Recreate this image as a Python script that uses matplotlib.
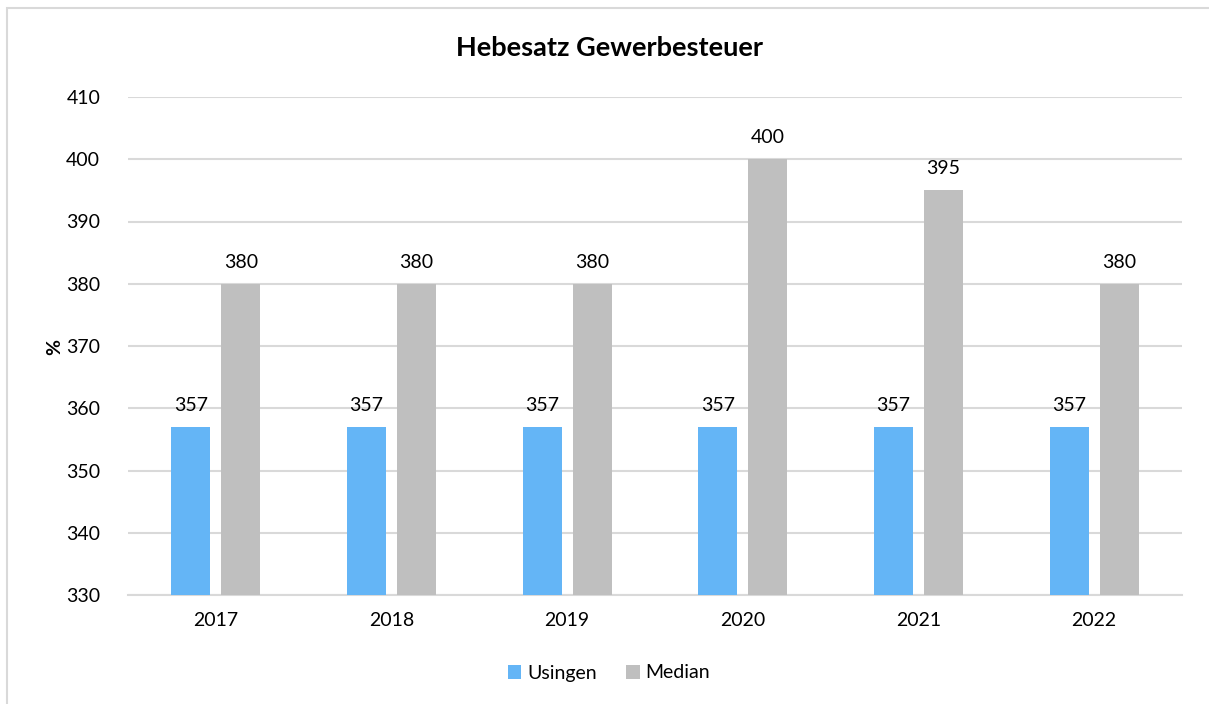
import matplotlib
matplotlib.use("Agg")
import matplotlib.pyplot as plt
import numpy as np
from matplotlib.patches import Rectangle

years = ["2017", "2018", "2019", "2020", "2021", "2022"]
usingen = [357, 357, 357, 357, 357, 357]
median = [380, 380, 380, 400, 395, 380]
series_names = ["Usingen", "Median"]
colors = ["#64B5F6", "#BFBFBF"]

plt.rcParams['font.family'] = ['Lato', 'DejaVu Sans']

fig = plt.figure(figsize=(12.09, 7.04), dpi=100)
ax = fig.add_axes([128/1209, 1-595/704, (1182-128)/1209, (595-97)/704])

x = np.arange(len(years))
w = 0.222
off = 0.142
b1 = ax.bar(x - off, [v - 330 for v in usingen], w, bottom=330, color=colors[0], label=series_names[0], zorder=3)
b2 = ax.bar(x + off, [v - 330 for v in median], w, bottom=330, color=colors[1], label=series_names[1], zorder=3)

for xi, v in zip(x, usingen):
    ax.text(xi - off, v + 2.1, str(v), ha='center', va='bottom', fontsize=14, color='#000000')
for xi, v in zip(x, median):
    ax.text(xi + off, v + 2.1, str(v), ha='center', va='bottom', fontsize=14, color='#000000')

ax.set_xlim(-0.5, len(years) - 0.5)
ax.set_ylim(330, 410)
ax.set_yticks(np.arange(330, 411, 10))
ax.set_xticks(x)
ax.set_xticklabels(years)
ax.tick_params(axis='both', length=0, labelsize=14, colors='#000000')
ax.tick_params(axis='y', pad=20)
ax.tick_params(axis='x', pad=12)
ax.grid(axis='y', color='#D9D9D9', linewidth=1.5, zorder=0)
for s in ['top', 'right', 'left']:
    ax.spines[s].set_visible(False)
ax.spines['bottom'].set_color('#D9D9D9')
ax.spines['bottom'].set_linewidth(1.5)

fig.text(55/1209, 1-347/704, '%', rotation=90, ha='center', va='center', fontsize=14, fontweight='bold')
fig.text(609/1209, 1-48/704, 'Hebesatz Gewerbesteuer', ha='center', va='center', fontsize=19.5, fontweight='bold')

leg = fig.legend(handles=[b1, b2], labels=series_names, loc='center', bbox_to_anchor=(609/1209, 1-673/704),
                 ncol=2, frameon=False, fontsize=14, handlelength=0.7, handleheight=0.7,
                 handletextpad=0.3, columnspacing=1.5)

fig.patches.append(Rectangle((7/1209, -0.1), 1.2, 1 - 8/704 + 0.1, transform=fig.transFigure,
                             fill=False, edgecolor='#D9D9D9', linewidth=1.5))

fig.savefig('out.png', dpi=100)
